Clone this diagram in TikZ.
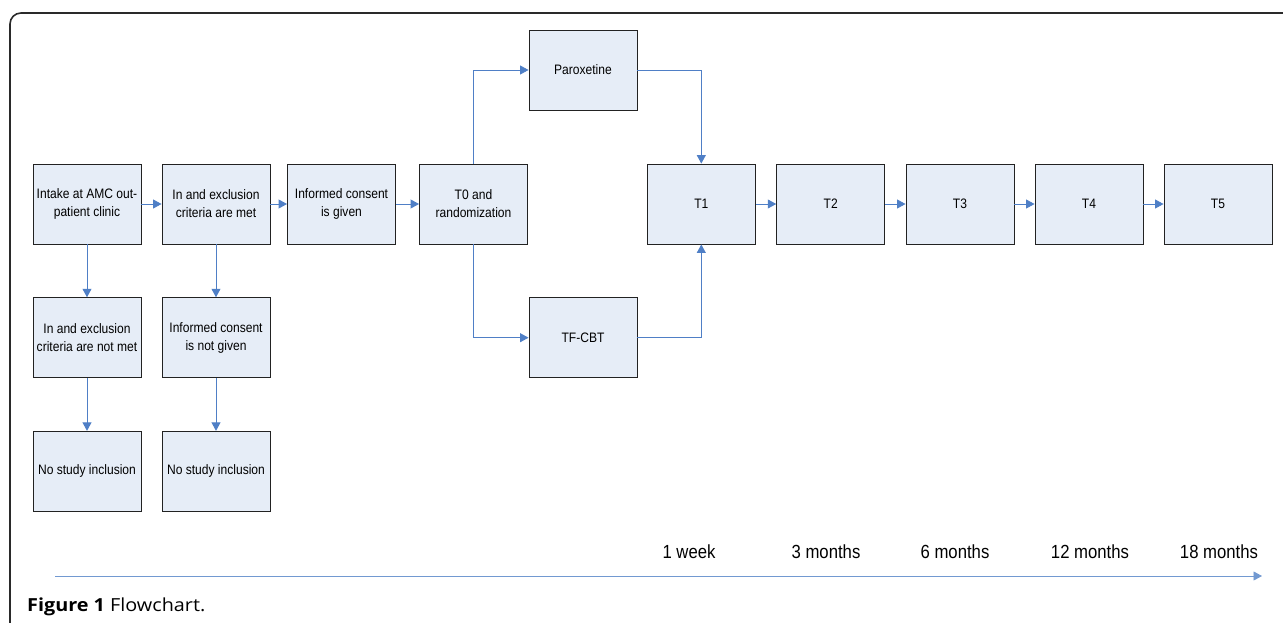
\documentclass[tikz,border=0pt]{standalone}
\usepackage{fontspec}
\setmainfont{Liberation Sans}
\newfontfamily\boxfam[FakeStretch=0.88]{Liberation Sans}
\newfontfamily\capfam[FakeStretch=1.1]{Open Sans}
\usetikzlibrary{arrows.meta,positioning}
\definecolor{boxfill}{HTML}{E6EDF7}
\definecolor{boxline}{HTML}{222222}
\definecolor{arrowblue}{HTML}{4F7FC6}
\definecolor{framegray}{HTML}{2A2A2A}
\tikzset{
  stepbox/.style={draw=boxline, fill=boxfill, line width=0.9pt, minimum width=108pt, minimum height=80pt, inner sep=0pt, align=center, font=\boxfam\fontsize{13.7}{18}\selectfont},
  flow/.style={draw=arrowblue, line width=0.9pt, -{Triangle[length=8.5pt,width=9pt]}},
  timelbl/.style={font=\boxfam\fontsize{19}{22}\selectfont, inner sep=0pt}
}
\begin{document}
\begin{tikzpicture}[x=1pt,y=-1pt]
\useasboundingbox (0,0) rectangle (1283,622);
% frame
\draw[framegray, line width=1.6pt, rounded corners=11pt] (10,640) -- (10,13) -- (1300,13);
% nodes
\node[stepbox] (b1) at (87,204) {Intake at AMC out-\\patient clinic};
\node[stepbox] (b2) at (216,204) {In and exclusion\\criteria are met};
\node[stepbox] (b3) at (341.5,204) {Informed consent\\is given};
\node[stepbox] (t0) at (473.5,204) {T0 and\\randomization};
\node[stepbox] (par) at (583,70) {Paroxetine};
\node[stepbox] (tf) at (583,337.7) {TF-CBT};
\node[stepbox] (t1) at (701.3,204) {T1};
\node[stepbox] (t2) at (830.7,204) {T2};
\node[stepbox] (t3) at (960,204) {T3};
\node[stepbox] (t4) at (1089,204) {T4};
\node[stepbox] (t5) at (1218,204) {T5};
\node[stepbox] (nm) at (87,337.7) {In and exclusion\\criteria are not met};
\node[stepbox] (ng) at (216,337.7) {Informed consent\\is not given};
\node[stepbox] (ns1) at (87,471.3) {No study inclusion};
\node[stepbox] (ns2) at (216,471.3) {No study inclusion};
% connectors
\draw[flow] (b1) -- (b2);
\draw[flow] (b2) -- (b3);
\draw[flow] (b3) -- (t0);
\draw[flow] (t0.north) |- (par.west);
\draw[flow] (t0.south) |- (tf.west);
\draw[flow] (par.east) -| (t1.north);
\draw[flow] (tf.east) -| (t1.south);
\draw[flow] (t1) -- (t2);
\draw[flow] (t2) -- (t3);
\draw[flow] (t3) -- (t4);
\draw[flow] (t4) -- (t5);
\draw[flow] (b1) -- (nm);
\draw[flow] (b2) -- (ng);
\draw[flow] (nm) -- (ns1);
\draw[flow] (ng) -- (ns2);
% timeline
\coordinate (tlstart) at (55,576);
\coordinate (tlend) at (1262,576);
\draw[flow, draw=arrowblue!80] (tlstart) -- (tlend);
\node[timelbl] (w1) at (689,552) {1 week};
\node[timelbl] (m3) at (826,552) {3 months};
\node[timelbl] (m6) at (955,552) {6 months};
\node[timelbl] (m12) at (1090,552) {12 months};
\node[timelbl] (m18) at (1219,552) {18 months};
% caption
\node[anchor=west, inner sep=0pt, font=\capfam\fontsize{18}{22}\selectfont] (cap) at (27,607) {\textbf{Figure 1} Flowchart.};
\end{tikzpicture}
\end{document}
